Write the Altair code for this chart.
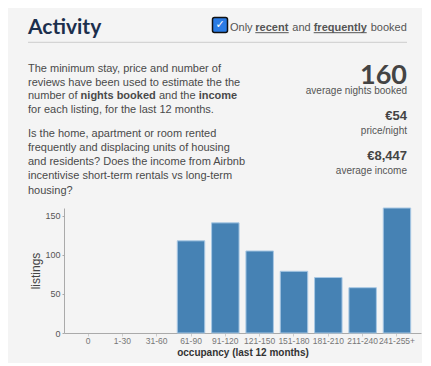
import altair as alt
import pandas as pd

# ---- data ----
categories = ["0", "1-30", "31-60", "61-90", "91-120", "121-150", "151-180", "181-210", "211-240", "241-255+"]
listings = [0, 0, 0, 118, 141, 105, 79, 71, 58, 160]

title_text = "Activity"
para1 = [
    "The minimum stay, price and number of",
    "reviews have been used to estimate the the",
]
para1_line3 = ["number of", "nights booked", "and the", "income"]
para1_line4 = "for each listing, for the last 12 months."
para2 = [
    "Is the home, apartment or room rented",
    "frequently and displacing units of housing",
    "and residents? Does the income from Airbnb",
    "incentivise short-term rentals vs long-term",
    "housing?",
]
stats = [("160", "average nights booked"), ("€54", "price/night"), ("€8,447", "average income")]

df = pd.DataFrame({"occupancy": categories, "listings": listings})

BODY = "Liberation Sans"
TXT = "#4a4a4a"
PSIZE = 11

bars = alt.Chart(df).transform_filter("datum.listings > 0").mark_bar(
    color="#4682b4", stroke="#a8c8e4", strokeWidth=1).encode(
    x=alt.X("occupancy:N", sort=categories, title="occupancy (last 12 months)",
            scale=alt.Scale(domain=categories, paddingInner=0.2, paddingOuter=0.3),
            axis=alt.Axis(labelAngle=0, labelFontSize=8.5, labelColor="#777", labelFont=BODY,
                          domainColor="#aaa", tickColor="#ccc", tickSize=3, labelPadding=0,
                          titleFont=BODY, titleFontSize=10, titleFontWeight="bold", titleColor="#333",
                          titlePadding=3)),
    y=alt.Y("listings:Q", title="listings",
            scale=alt.Scale(domain=[0, 160], nice=False),
            axis=alt.Axis(values=[0, 50, 100, 150], grid=False, labelFontSize=9, labelColor="#555",
                          labelFont=BODY, domainColor="#aaa", tickColor="#aaa", tickSize=2,
                          titleFont=BODY, titleFontSize=12, titleFontWeight="normal", titleColor="#444",
                          titlePadding=2)),
)

one = pd.DataFrame({"a": [0]})


def txt(text, x, y, size=PSIZE, weight="normal", color=TXT, align="left", font=BODY):
    return alt.Chart(one).mark_text(
        text=text, fontSize=size, fontWeight=weight, color=color, align=align,
        baseline="alphabetic", font=font
    ).encode(x=alt.value(x), y=alt.value(y))


def hline(x1, x2, y, color, w=1):
    return alt.Chart(one).mark_rule(color=color, strokeWidth=w).encode(
        x=alt.value(x1), x2=alt.value(x2), y=alt.value(y))


layers = [bars]
# header
layers.append(txt(title_text, -36, -174.5, size=21, weight="bold", color="#1c2f4d", font="Lato"))
layers.append(hline(-36, 343, -165.7, "#cccccc"))
# checkbox
layers.append(alt.Chart(one).mark_rect(fill="#2a7be4", stroke="#111", strokeWidth=1.5, cornerRadius=2).encode(
    x=alt.value(148.5), x2=alt.value(163.5), y=alt.value(-190.5), y2=alt.value(-175.5)))
layers.append(alt.Chart(one).mark_text(text="✓", fontSize=11, fontWeight="bold", color="white",
                                       align="center", baseline="middle", font="DejaVu Sans").encode(
    x=alt.value(156), y=alt.value(-183)))
seg = [("Only", 166, "normal"), ("recent", 191.3, "bold"), ("and", 228.3, "normal"),
       ("frequently", 249.7, "bold"), ("booked", 306.7, "normal")]
for t, x, w in seg:
    layers.append(txt(t, x, -177.5, size=11, weight=w, color="#555"))
layers.append(hline(191.3, 224.7, -175.3, "#555"))
layers.append(hline(249.7, 302.7, -175.3, "#555"))

# paragraph 1
p1_y = [-136.2, -122.5, -108.7, -95]
for i, line in enumerate(para1):
    layers.append(txt(line, -36, p1_y[i]))
l3x = [-36, 16.6, 94.9, 134.7]
for i, s in enumerate(para1_line3):
    layers.append(txt(s, l3x[i], p1_y[2], weight="bold" if i % 2 == 1 else "normal"))
layers.append(txt(para1_line4, -36, p1_y[3]))
# paragraph 2
p2_y = [-71.3, -57.3, -43, -28.7, -14]
for i, line in enumerate(para2):
    layers.append(txt(line, -36, p2_y[i]))

# stats
layers.append(txt(stats[0][0], 343, -124.2, size=27, weight="bold", color="#444", align="right", font="Lato"))
layers.append(txt(stats[0][1], 343, -114.5, size=10, color="#555", align="right"))
layers.append(txt(stats[1][0], 343, -88, size=13, weight="bold", color="#444", align="right"))
layers.append(txt(stats[1][1], 343, -74, size=10, color="#555", align="right"))
layers.append(txt(stats[2][0], 343, -48.5, size=13, weight="bold", color="#444", align="right"))
layers.append(txt(stats[2][1], 343, -34, size=10, color="#555", align="right"))

chart = alt.layer(*layers).properties(
    width=357, height=125,
    autosize=alt.AutoSizeParams(type="none"),
    padding={"left": 56, "top": 200, "right": 1, "bottom": 30},
    background="#f4f4f4",
).configure_view(stroke=None)

chart.save("out.html", embed_options={"renderer": "svg", "actions": False})
